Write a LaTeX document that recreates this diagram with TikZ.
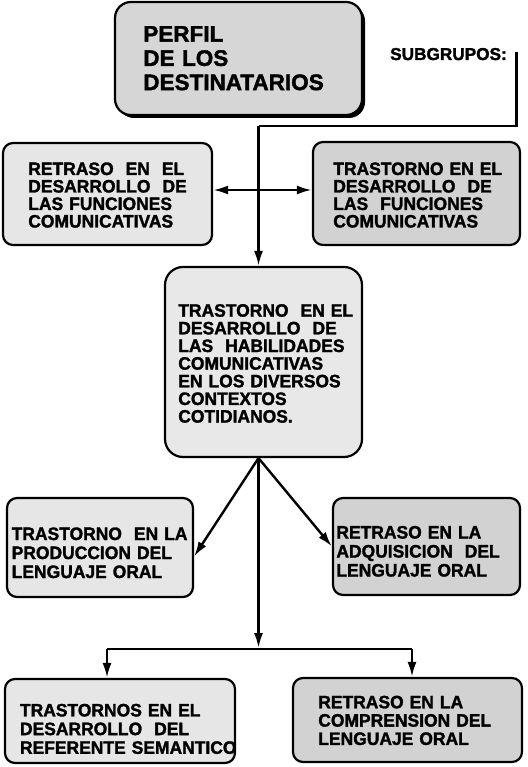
\documentclass[tikz,border=0pt]{standalone}
\usepackage{fontspec}
\setmainfont{Liberation Sans}[BoldFont={Liberation Sans Bold}, BoldFeatures={FakeStretch=0.97, FakeBold=1.6}]
\newfontfamily\titlefont{Liberation Sans}[BoldFont={Liberation Sans Bold}, BoldFeatures={FakeBold=1.8}]
\usetikzlibrary{arrows.meta,shadows}
\definecolor{fA}{HTML}{E6E6E6}
\definecolor{fB}{HTML}{D2D2D2}
\definecolor{fC}{HTML}{E8E8E8}
\definecolor{fP}{HTML}{D6D6D6}
\begin{document}
\begin{tikzpicture}[x=1pt,y=-1pt,
  >={Latex[length=15pt,width=9pt]},
  box/.style={draw, line width=2.2pt, rounded corners=10pt, inner ysep=0pt, align=left},
  txt/.style={font=\bfseries\fontsize{18}{#1}\selectfont},
  conn/.style={line width=2.4pt},
  arr/.style={line width=2.4pt, ->}]
\useasboundingbox (0,0) rectangle (527,767);

% title
\node[box, fill=fP, rounded corners=16pt,
  drop shadow={fill=black, opacity=1, shadow xshift=3pt, shadow yshift=-3pt},
  font=\titlefont\bfseries\fontsize{22.5}{24.2}\selectfont,
  inner xsep=28.3pt, text width=190.4pt, text height=39.7pt, text depth=73.3pt]
  (P) at (238.5,58.5) {\mbox{PERFIL}\\\mbox{DE LOS}\\\mbox{DESTINATARIOS}};
\node[anchor=base west, inner sep=0pt, font=\titlefont\bfseries\fontsize{17.2}{20}\selectfont]
  (S) at (390,60) {SUBGRUPOS:};

% second row
\node[box, fill=fA, txt=17.5, inner xsep=25.3pt, text width=158.4pt, text height=32pt, text depth=70pt]
  (L1) at (107.5,194) {\mbox{RETRASO\ \ EN\ \ EL}\\\mbox{DESARROLLO\ \ DE}\\\mbox{LAS FUNCIONES}\\\mbox{COMUNICATIVAS}};
\node[box, fill=fB, txt=17.5, inner xsep=20.3pt, text width=166.4pt, text height=33pt, text depth=70pt]
  (R1) at (416.5,193.5) {\mbox{TRASTORNO EN EL}\\\mbox{DESARROLLO\ \ DE}\\\mbox{LAS\ \ FUNCIONES}\\\mbox{COMUNICATIVAS}};

% central
\node[box, fill=fC, rounded corners=18pt, txt=17.65, inner xsep=13.3pt, text width=170.4pt, text height=49.7pt, text depth=140.3pt]
  (C) at (263.5,362) {\mbox{TRASTORNO\ \ EN EL}\\\mbox{DESARROLLO\ \ DE}\\\mbox{LAS\ \ HABILIDADES}\\\mbox{COMUNICATIVAS}\\\mbox{EN LOS DIVERSOS}\\\mbox{CONTEXTOS}\\\mbox{COTIDIANOS.}};

% middle row
\node[box, fill=fA, txt=19, inner xsep=4.7pt, text width=176.6pt, text height=42pt, text depth=57pt]
  (ML) at (100,547.5) {\mbox{TRASTORNO\ \ EN LA}\\\mbox{PRODUCCION DEL}\\\mbox{LENGUAJE ORAL}};
\node[box, fill=fB, txt=19, inner xsep=3.4pt, text width=180.2pt, text height=40.5pt, text depth=56.5pt]
  (MR) at (426.5,546.5) {\mbox{RETRASO EN LA}\\\mbox{ADQUISICION\ \ DEL}\\\mbox{LENGUAJE ORAL}};

% bottom row
\node[box, fill=fA, txt=18.7, inner xsep=15pt, text width=200pt, text height=37.4pt, text depth=46.6pt]
  (BL) at (120,721) {\mbox{TRASTORNOS EN EL}\\\mbox{DESARROLLO\ \ DEL}\\\mbox{REFERENTE SEMANTICO}};
\node[box, fill=fB, txt=18.3, inner xsep=25.3pt, text width=178.4pt, text height=30.3pt, text depth=53.7pt]
  (BR) at (407.5,720) {\mbox{RETRASO EN LA}\\\mbox{COMPRENSION DEL}\\\mbox{LENGUAJE ORAL}};

% connectors
\coordinate (sg) at (516.5,52);
\coordinate (j1) at (258.5,126);
\coordinate (j2) at (258.5,190);
\coordinate (j3) at (258.5,648);
\coordinate (jl) at (107,649);
\coordinate (jr) at (412,649);
\draw[conn] (sg) |- (j1);
\draw[arr] (j1) -- (j1 |- C.north);
\draw[conn, <->] (L1.east |- j2) -- (R1.west |- j2);
\draw[arr] (j1 |- C.south) -- ([yshift=-9pt]ML.east);
\draw[arr] (j1 |- C.south) -- (MR.west);
\draw[arr] (j1 |- C.south) -- (j3);
\draw[conn] (jl) -- (jr);
\draw[arr] (jl) -- (jl |- BL.north);
\draw[arr] (jr) -- (jr |- BR.north);
\end{tikzpicture}
\end{document}
